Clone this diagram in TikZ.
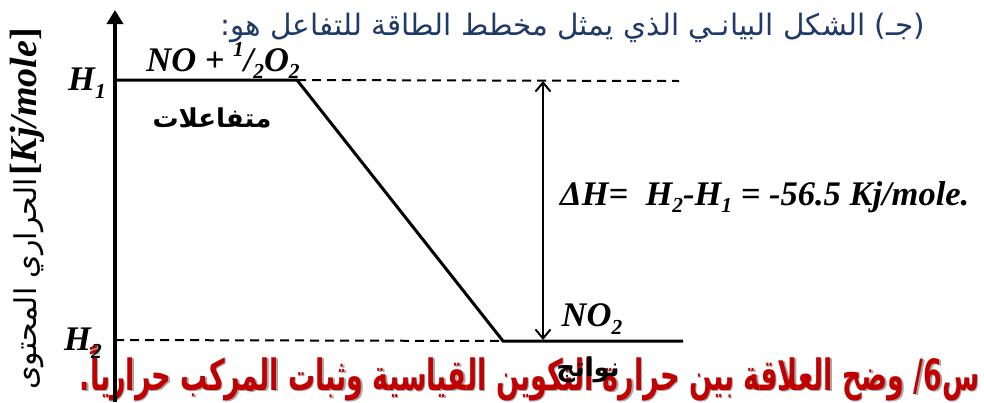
\documentclass[tikz,border=0pt]{standalone}
\usepackage{fontspec}
\setmainfont{Liberation Serif}
\newfontfamily\arabicfont[Script=Arabic]{DejaVu Sans}
\TeXXeTstate=1
\usetikzlibrary{arrows.meta}
\definecolor{hblue}{HTML}{1F3A68}
\definecolor{qred}{HTML}{C00000}
\newcommand\lowsub[1]{\raisebox{-0.22em}{\scalebox{0.62}{#1}}}
\newcommand\highsup[1]{\raisebox{0.42em}{\scalebox{0.62}{#1}}}
\newcommand\qtext{\beginR س6/ وضح العلاقة بين حرارة التكوين القياسية وثبات المركب حرارياً.\endR}
\begin{document}
\begin{tikzpicture}[x=1pt,y=-1pt,
  axisline/.style={line width=3.5pt},
  levelline/.style={line width=3pt, line join=miter},
  dashline/.style={line width=2pt, dash pattern=on 9pt off 6pt},
  lat/.style={font=\fontsize{34.5}{36}\selectfont\bfseries\itshape, inner sep=0pt},
  arb/.style={font=\arabicfont\bfseries\fontsize{26}{30}\selectfont, inner sep=0pt},
  dharrow/.style={line width=2pt, {Straight Barb[length=9pt,width=15pt]}-{Straight Barb[length=9pt,width=15pt]}},
  qstyle/.style={anchor=base east, inner sep=0pt, font=\arabicfont\bfseries\fontsize{30}{32}\selectfont},
]
\useasboundingbox (0,0) rectangle (984,402);

% heading
\node[anchor=base east, inner sep=0pt, text=hblue, font=\arabicfont\fontsize{29.5}{31}\selectfont] (head) at (925,35) {\beginR (جـ) الشكل البيانـي الذي يمثل مخطط الطاقة للتفاعل هو:\endR};

% red question with shadow
\node[qstyle, text=black!35] (qshadow) at (981.5,391.5) {\resizebox{900pt}{45pt}{\qtext}};
\node[qstyle, text=qred] (q) at (980,390) {\resizebox{900pt}{45pt}{\qtext}};

% vertical label
\node[rotate=90, anchor=east, inner sep=0pt] (ylab) at (27,28) {{\arabicfont\fontsize{30}{30}\selectfont\beginR المحتوى\endR\ \beginR الحراري\endR}\ {\fontsize{38}{38}\selectfont\bfseries[\textit{Kj/mole}]}};

\coordinate (axbot) at (115,402);
\coordinate (axtop) at (115,10);
\coordinate (r1) at (115,80);
\coordinate (r2) at (297,80);
\coordinate (p1) at (503,341);
\coordinate (p2) at (683,341);
\coordinate (d1e) at (679,81);
\coordinate (d2s) at (115,340);
\coordinate (aT) at (543,81);
\coordinate (aB) at (543,340);

\draw[dashline] (r2) -- (d1e);
\draw[dashline] (d2s) -- (p1);
\draw[levelline] (r1) -- (r2) -- (p1) -- (p2);
\draw[dharrow] (aT) -- (aB);
\draw[axisline, -{Triangle[length=14pt,width=16pt]}] (axbot) -- (axtop);

\node[lat] (h1) at (87,83) {H\lowsub{1}};
\node[lat] (h2) at (83,343) {H\lowsub{2}};
\node[lat, anchor=base] (reac) at (223,71) {NO + \highsup{1}/\lowsub{2}O\lowsub{2}};
\node[arb] (mt) at (212,118) {\beginR متفاعلات\endR};
\node[lat, anchor=base west] (dh) at (560,205) {ΔH=~ H\lowsub{2}-H\lowsub{1} = -56.5 Kj/mole.};
\node[lat] (no2) at (592,319) {NO\lowsub{2}};
\node[arb] (nw) at (588,370) {\beginR نواتج\endR};
\end{tikzpicture}
\end{document}
